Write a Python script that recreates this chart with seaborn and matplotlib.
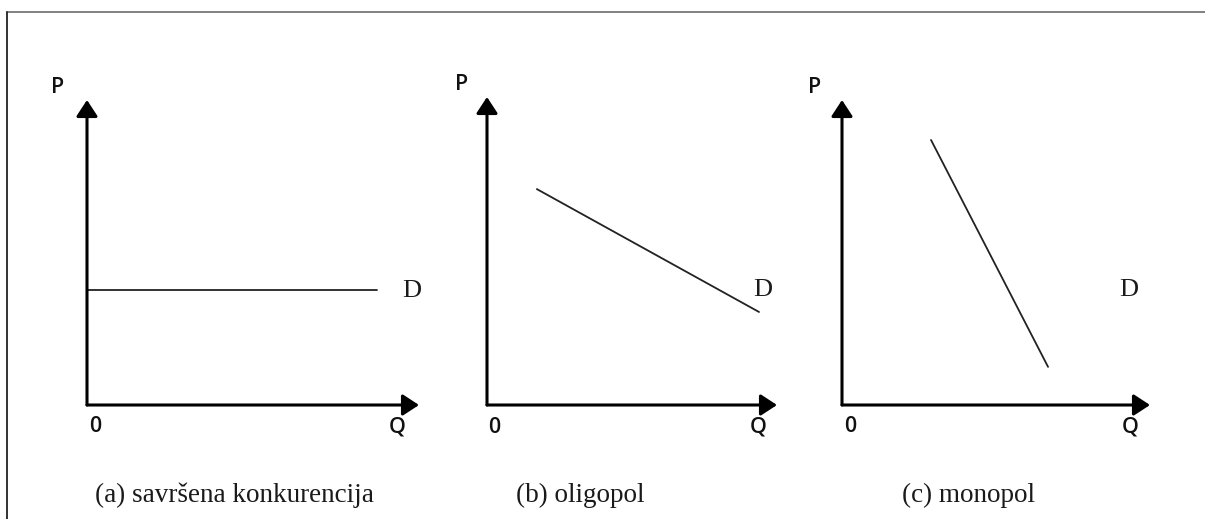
import matplotlib
matplotlib.use("Agg")
import matplotlib.pyplot as plt
from matplotlib.lines import Line2D
import pandas as pd
import seaborn as sns

sns.set_style("white")

# demand curves, in units of each panel's axes (0..10 = arrow length)
captions = ["(a) savršena konkurencija", "(b) oligopol", "(c) monopol"]
demand_q = [[0.0, 8.73], [1.72, 9.38], [2.89, 6.69]]
demand_p = [[3.77, 3.77], [7.01, 3.02], [8.69, 1.25]]
d_label_q = [9.79, 9.52, 9.32]
d_label_p = [3.74, 3.73, 3.77]

# panel boxes in pixels: origin x, axis length x, axis length y
W, H = 1205, 519
origin_x = [87, 487, 842]
len_x = [332, 290, 308]
origin_y = 405
len_y = [305, 308, 305]
caption_x = [234, 580, 969]

fig = plt.figure(figsize=(W / 100, H / 100), dpi=100)

# frame around the figure (top and left edges visible)
fig.add_artist(Line2D([7 / W, 1], [1 - 12 / H, 1 - 12 / H], color="#777777", lw=1.3))
fig.add_artist(Line2D([7 / W, 7 / W], [0, 1 - 12 / H], color="#222222", lw=1.3))

arrow = dict(arrowstyle="-|>,head_length=0.55,head_width=0.36", lw=2.2,
             color="black", mutation_scale=18, shrinkA=0, shrinkB=0)

for i in range(3):
    ax = fig.add_axes([origin_x[i] / W, (H - origin_y) / H, len_x[i] / W, len_y[i] / H])
    df = pd.DataFrame({"Q": demand_q[i], "P": demand_p[i]})
    sns.lineplot(data=df, x="Q", y="P", ax=ax, color="#222222", lw=1.3, sort=False)
    ax.set_xlim(0, 10)
    ax.set_ylim(0, 10)
    ax.set_xticks([])
    ax.set_yticks([])
    ax.set_xlabel("")
    ax.set_ylabel("")
    for s in ax.spines.values():
        s.set_visible(False)
    # axes with arrow heads
    ax.annotate("", xy=(1, 0), xytext=(0, 0), xycoords="axes fraction",
                arrowprops=arrow, annotation_clip=False)
    ax.annotate("", xy=(0, 1), xytext=(0, 0), xycoords="axes fraction",
                arrowprops=arrow, annotation_clip=False)

    ax.text(d_label_q[i], d_label_p[i], "D", family="Liberation Serif", fontsize=19,
            ha="center", va="center", color="#1a1a1a")
    ax.text(-0.88, 10.4, "P", family="Open Sans", fontweight="semibold", fontsize=15.5,
            ha="center", va="center", color="#111111")
    ax.text(0.25, -0.72, "0", family="Open Sans", fontweight="semibold", fontsize=15.5,
            ha="center", va="center", color="#111111")
    ax.text(9.35, -0.72, "Q", family="Open Sans", fontweight="semibold", fontsize=15.5,
            ha="center", va="center", color="#111111")

    fig.text(caption_x[i] / W, 1 - 502 / H, captions[i], family="Liberation Serif",
             fontsize=19.5, ha="center", va="baseline", color="#1a1a1a")

fig.savefig("out.png", dpi=100)
